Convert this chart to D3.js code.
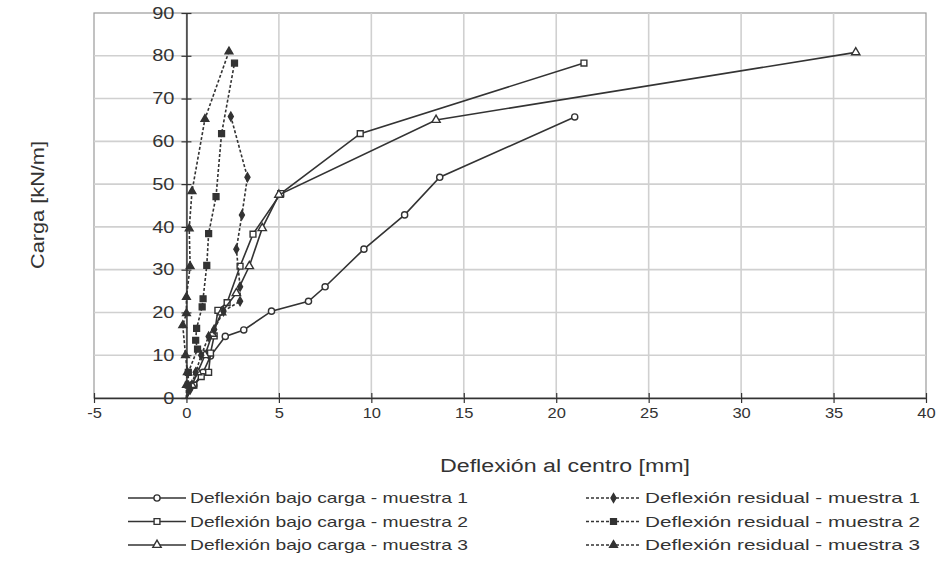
<!DOCTYPE html>
<html>
<head>
<meta charset="utf-8">
<script src="https://cdnjs.cloudflare.com/ajax/libs/d3/7.8.5/d3.min.js"></script>
<style>
  html, body { margin: 0; padding: 0; background: #ffffff; }
  svg { display: block; font-family: "Liberation Sans", Arial, sans-serif; }
</style>
</head>
<body>
<svg id="chart" width="945" height="569"></svg>
<script>
// Load–deflection readings: [deflection at centre (mm), load (kN/m)]
const underLoad1 = [[0,0],[0.4,3],[0.9,6],[1.3,9.8],[2.1,14.4],[3.1,15.9],[4.6,20.3],[6.6,22.6],[7.5,26],[9.6,34.8],[11.8,42.8],[13.7,51.6],[21.0,65.7]];
const underLoad2 = [[0,0],[0.4,3],[0.8,5],[1.2,6],[1.3,10.5],[1.5,14.5],[1.7,20.5],[2.2,22.3],[2.9,30.8],[3.6,38.3],[5.1,47.8],[9.4,61.8],[21.5,78.3]];
const underLoad3 = [[0,0],[0.3,3],[0.6,6],[1.0,10],[1.4,15],[1.9,20],[2.7,24.5],[3.4,30.8],[4.1,39.7],[5.0,47.5],[13.5,65.0],[36.2,80.8]];
const residual1 = [[0,0],[0.2,2],[0.5,6],[0.8,10],[1.2,14.4],[1.5,16],[2.0,20.3],[2.9,22.6],[2.9,26],[2.7,34.8],[3.0,42.8],[3.3,51.6],[2.4,65.8]];
const residual2 = [[0,0],[0.1,3],[0.1,6],[0.6,11.4],[0.5,13.5],[0.55,16.3],[0.85,21.3],[0.9,23.2],[1.1,31],[1.2,38.4],[1.6,47.1],[1.9,61.8],[2.6,78.3]];
const residual3 = [[0,0],[0,3],[0.05,6],[-0.05,10],[-0.2,17],[0,19.8],[0,23.6],[0.2,30.8],[0.15,39.6],[0.3,48.3],[1.0,65.2],[2.3,81]];

const seriesNames = [
  "Deflexión bajo carga - muestra 1",
  "Deflexión bajo carga - muestra 2",
  "Deflexión bajo carga - muestra 3",
  "Deflexión residual - muestra 1",
  "Deflexión residual - muestra 2",
  "Deflexión residual - muestra 3"
];
const xTicks = [-5, 0, 5, 10, 15, 20, 25, 30, 35, 40];
const yTicks = [0, 10, 20, 30, 40, 50, 60, 70, 80, 90];
const xTitle = "Deflexión al centro [mm]";
const yTitle = "Carga  [kN/m]";

const series = [
  { name: seriesNames[0], data: underLoad1, sym: d3.symbolCircle, size: 30, fill: "#fff", dash: null },
  { name: seriesNames[1], data: underLoad2, sym: d3.symbolSquare, size: 34, fill: "#fff", dash: null },
  { name: seriesNames[2], data: underLoad3, sym: d3.symbolTriangle, size: 30, fill: "#fff", dash: null },
  { name: seriesNames[3], data: residual1, sym: d3.symbolDiamond, size: 22, fill: "#333", dash: "3,2" },
  { name: seriesNames[4], data: residual2, sym: d3.symbolSquare, size: 34, fill: "#333", dash: "3,2" },
  { name: seriesNames[5], data: residual3, sym: d3.symbolTriangle, size: 26, fill: "#333", dash: "3,2" }
];

const svg = d3.select("#chart");
const x = d3.scaleLinear().domain([-5, 40]).range([94, 926]);
const y = d3.scaleLinear().domain([0, 90]).range([398, 13]);
const ink = "#333";

// widen text horizontally by a factor, keeping its anchor
function stretch(sel, factor) {
  sel.each(function () {
    const w = this.getComputedTextLength();
    d3.select(this).attr("textLength", w * factor).attr("lengthAdjust", "spacingAndGlyphs");
  });
}

// plot area background and border
svg.append("rect").attr("x", x(-5)).attr("y", y(90))
  .attr("width", x(40) - x(-5)).attr("height", y(0) - y(90))
  .attr("fill", "#fff").attr("stroke", "#9a9a9a").attr("stroke-width", 1.2);

// gridlines
const grid = svg.append("g").attr("stroke", "#d0d0d0").attr("stroke-width", 1.6);
grid.selectAll(".gx").data(xTicks.filter(d => d > -5 && d < 40)).join("line")
  .attr("x1", d => x(d)).attr("x2", d => x(d)).attr("y1", y(0)).attr("y2", y(90));
grid.selectAll(".gy").data(yTicks.filter(d => d > 0 && d < 90)).join("line")
  .attr("x1", x(-5)).attr("x2", x(40)).attr("y1", d => y(d)).attr("y2", d => y(d));

// x axis along load = 0, with crossing ticks
const xAxis = d3.axisBottom(x).tickValues(xTicks).tickSize(0).tickPadding(9)
  .tickFormat(d => String(d));
const gx = svg.append("g").attr("transform", `translate(0,${y(0)})`).call(xAxis);
gx.select(".domain").attr("stroke", ink).attr("stroke-width", 1.5);
gx.selectAll(".tick").append("line").attr("y1", -5).attr("y2", 5).attr("stroke", ink).attr("stroke-width", 1.2);
gx.selectAll("text").attr("fill", "#333").attr("font-size", 15).attr("font-family", "Liberation Sans, Arial, sans-serif");

// y axis along deflection = 0, with crossing ticks
const yAxis = d3.axisLeft(y).tickValues(yTicks).tickSize(0).tickPadding(12)
  .tickFormat(d => String(d));
const gy = svg.append("g").attr("transform", `translate(${x(0)},0)`).call(yAxis);
gy.select(".domain").attr("stroke", ink).attr("stroke-width", 1.5);
gy.selectAll(".tick").append("line").attr("x1", -5).attr("x2", 5).attr("stroke", ink).attr("stroke-width", 1.2);
gy.selectAll("text").attr("fill", "#333").attr("font-size", 16).attr("font-family", "Liberation Sans, Arial, sans-serif");
stretch(gx.selectAll("text"), 1.1);
stretch(gy.selectAll("text"), 1.25);

// axis titles
svg.append("text").attr("x", 565).attr("y", 472).attr("text-anchor", "middle")
  .attr("font-size", 18).attr("fill", ink).text(xTitle)
  .attr("textLength", 250).attr("lengthAdjust", "spacingAndGlyphs");
svg.append("text").attr("transform", `translate(44,205) rotate(-90)`)
  .attr("text-anchor", "middle").attr("font-size", 18).attr("fill", ink).text(yTitle)
  .attr("textLength", 128).attr("lengthAdjust", "spacingAndGlyphs");

// series lines and markers
const line = d3.line().x(d => x(d[0])).y(d => y(d[1]));
series.forEach(s => {
  const g = svg.append("g");
  g.append("path").datum(s.data).attr("d", line).attr("fill", "none")
    .attr("stroke", ink).attr("stroke-width", 1.6)
    .attr("stroke-dasharray", s.dash);
  g.selectAll("path.m").data(s.data.slice(1)).join("path").attr("class", "m")
    .attr("transform", d => `translate(${x(d[0])},${y(d[1])})`)
    .attr("d", d3.symbol().type(s.sym).size(s.size))
    .attr("fill", s.fill).attr("stroke", ink).attr("stroke-width", 1.4);
});

// legend: two columns of three rows
const legend = svg.append("g");
series.forEach((s, i) => {
  const col = Math.floor(i / 3), row = i % 3;
  const x0 = col === 0 ? 128 : 586;
  const x1 = col === 0 ? 186 : 641;
  const yy = 498 + row * 23.5;
  const g = legend.append("g");
  g.append("line").attr("x1", x0).attr("x2", x1).attr("y1", yy).attr("y2", yy)
    .attr("stroke", ink).attr("stroke-width", 1.6).attr("stroke-dasharray", s.dash);
  g.append("path").attr("transform", `translate(${(x0 + x1) / 2},${yy})`)
    .attr("d", d3.symbol().type(s.sym).size(s.size))
    .attr("fill", s.fill).attr("stroke", ink).attr("stroke-width", 1.4);
  g.append("text").attr("x", x1 + 4).attr("y", yy).attr("dy", "0.35em")
    .attr("font-size", 15).attr("fill", ink).text(s.name)
    .attr("textLength", col === 0 ? 278 : 275).attr("lengthAdjust", "spacingAndGlyphs");
});
</script>
</body>
</html>
